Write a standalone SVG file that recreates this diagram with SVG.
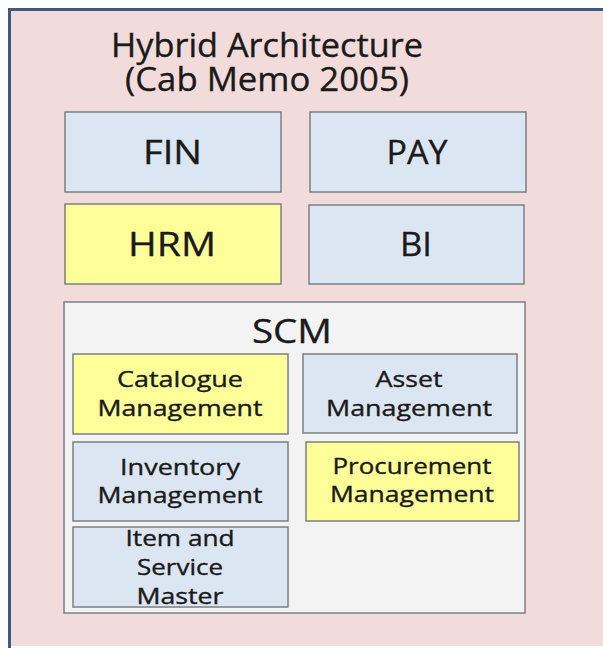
<svg xmlns="http://www.w3.org/2000/svg" width="603" height="648" viewBox="0 0 603 648">
<style>
text{font-family:"Open Sans","Liberation Sans",sans-serif;fill:#1a1a1a;text-anchor:middle;stroke:#1a1a1a;stroke-width:0.35}
.big{font-size:33px}
.sm{font-size:21px}
.blue{fill:#dce6f2;stroke:#7b7f86;stroke-width:1.5}
.yel{fill:#ffff9a;stroke:#7b7f86;stroke-width:1.5}
</style>
<rect x="0" y="0" width="603" height="648" fill="#ffffff"/>
<g id="outer">
<rect x="9" y="9" width="594" height="637" fill="#f2dcdb"/>
<path d="M9.5,648 V9.5 H603" fill="none" stroke="#3f5a7e" stroke-width="3"/>
<text class="big" font-size="32"><tspan x="267" y="57" textLength="312" lengthAdjust="spacingAndGlyphs">Hybrid Architecture</tspan><tspan x="267" y="91" textLength="284" lengthAdjust="spacingAndGlyphs">(Cab Memo 2005)</tspan></text>
</g>
<g id="fin"><rect class="blue" x="65" y="112" width="216" height="80"/><text class="big" x="172.5" y="164" textLength="59" lengthAdjust="spacingAndGlyphs">FIN</text></g>
<g id="pay"><rect class="blue" x="310" y="112" width="216" height="80"/><text class="big" x="417" y="164" textLength="61" lengthAdjust="spacingAndGlyphs">PAY</text></g>
<g id="hrm"><rect class="yel" x="65" y="204" width="216" height="80"/><text class="big" x="172" y="256" textLength="88" lengthAdjust="spacingAndGlyphs">HRM</text></g>
<g id="bi"><rect class="blue" x="309" y="205" width="215" height="79"/><text class="big" x="416" y="256" textLength="32" lengthAdjust="spacingAndGlyphs">BI</text></g>
<g id="scm"><rect x="64" y="302" width="461" height="311" fill="#f3f3f4" stroke="#7b7f86" stroke-width="1.5"/><text class="big" x="292" y="343" textLength="80" lengthAdjust="spacingAndGlyphs">SCM</text></g>
<g id="catalogue"><rect class="yel" x="73" y="354" width="215" height="80"/><text class="sm" x="180" y="387" textLength="126" lengthAdjust="spacingAndGlyphs">Catalogue</text><text class="sm" x="180" y="416" textLength="165" lengthAdjust="spacingAndGlyphs">Management</text></g>
<g id="asset"><rect class="blue" x="303" y="354" width="214" height="79"/><text class="sm" x="409" y="387" textLength="67" lengthAdjust="spacingAndGlyphs">Asset</text><text class="sm" x="409" y="416" textLength="166" lengthAdjust="spacingAndGlyphs">Management</text></g>
<g id="inventory"><rect class="blue" x="73" y="442" width="215" height="79"/><text class="sm" x="180" y="475" textLength="120" lengthAdjust="spacingAndGlyphs">Inventory</text><text class="sm" x="180" y="503" textLength="165" lengthAdjust="spacingAndGlyphs">Management</text></g>
<g id="procurement"><rect class="yel" x="306" y="442" width="213" height="79"/><text class="sm" x="412" y="474" textLength="159" lengthAdjust="spacingAndGlyphs">Procurement</text><text class="sm" x="412" y="502" textLength="164" lengthAdjust="spacingAndGlyphs">Management</text></g>
<g id="item"><rect class="blue" x="73" y="527" width="215" height="80"/><text class="sm" x="180" y="546" textLength="109" lengthAdjust="spacingAndGlyphs">Item and</text><text class="sm" x="180" y="575" textLength="86" lengthAdjust="spacingAndGlyphs">Service</text><text class="sm" x="180" y="604" textLength="87" lengthAdjust="spacingAndGlyphs">Master</text></g>
<g id="connectors"></g>
</svg>
